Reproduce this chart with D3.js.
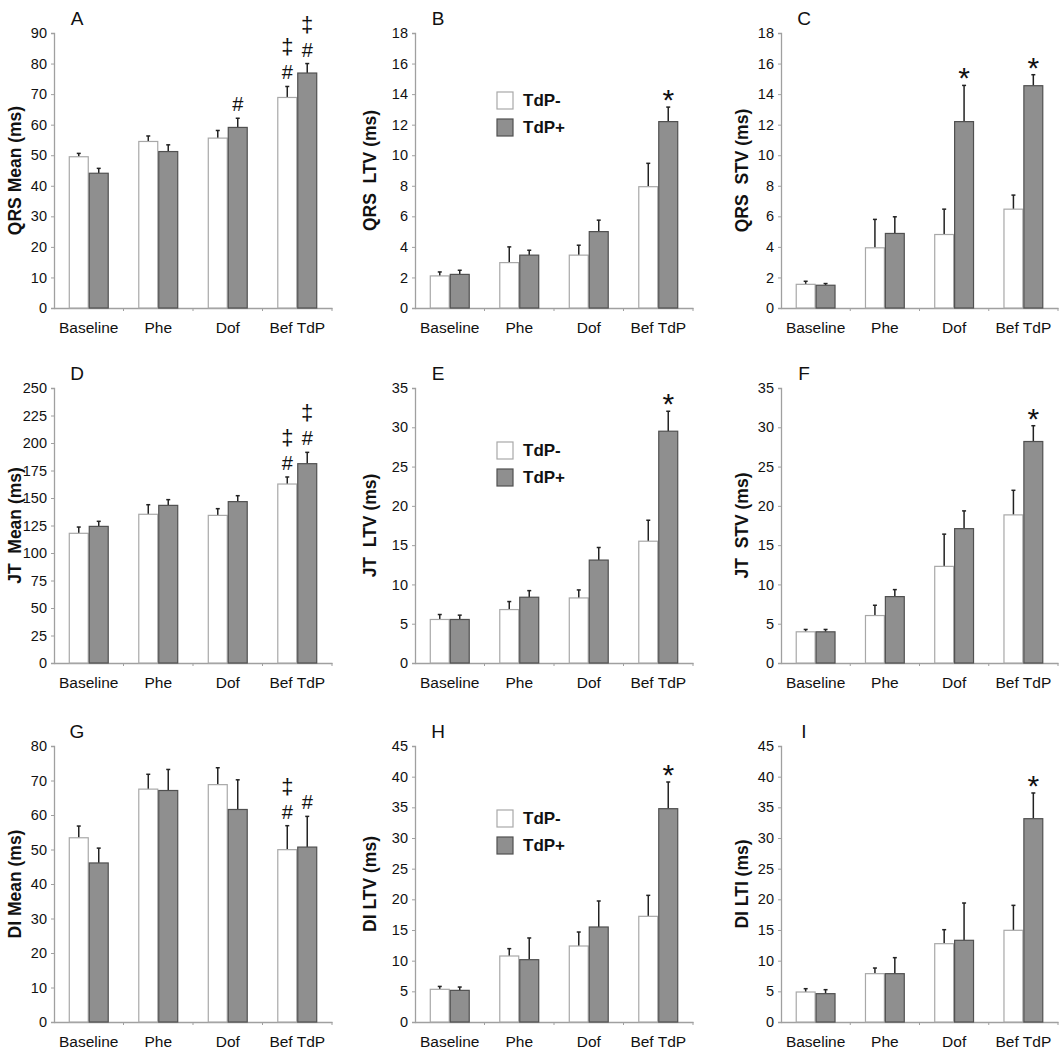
<!DOCTYPE html>
<html>
<head>
<meta charset="utf-8">
<script src="https://cdn.jsdelivr.net/npm/d3@7"></script>
<style>
  html, body { margin: 0; padding: 0; background: #fff; }
  svg { display: block; font-family: Arial, "Liberation Sans", sans-serif; }
</style>
</head>
<body>
<svg id="chart" width="1063" height="1054"></svg>
<script>
// ---------- data ----------
const categories = ["Baseline", "Phe", "Dof", "Bef TdP"];
const seriesNames = ["TdP-", "TdP+"];

const panelLetters = ["A", "B", "C", "D", "E", "F", "G", "H", "I"];
const yTitles = ["QRS Mean (ms)", "QRS  LTV (ms)", "QRS  STV (ms)",
                 "JT  Mean (ms)", "JT  LTV (ms)", "JT  STV (ms)",
                 "DI Mean (ms)", "DI LTV (ms)", "DI LTI (ms)"];
const yMaxes = [90, 18, 18, 250, 35, 35, 80, 45, 45];
const yTickSteps = [10, 2, 2, 25, 5, 5, 10, 5, 5];

// TdP- (white) and TdP+ (gray) means and upper errors
const qrsMeanNeg = [49.5, 54.5, 55.6, 68.9], qrsMeanNegErr = [1.1, 1.8, 2.5, 3.6];
const qrsMeanPos = [44.1, 51.2, 59.1, 76.9], qrsMeanPosErr = [1.6, 2.2, 3.0, 3.1];
const qrsLtvNeg = [2.1, 2.97, 3.46, 7.94], qrsLtvNegErr = [0.26, 1.03, 0.65, 1.53];
const qrsLtvPos = [2.2, 3.46, 5.0, 12.2], qrsLtvPosErr = [0.27, 0.32, 0.75, 0.95];
const qrsStvNeg = [1.55, 3.94, 4.81, 6.47], qrsStvNegErr = [0.2, 1.86, 1.66, 0.92];
const qrsStvPos = [1.49, 4.88, 12.2, 14.55], qrsStvPosErr = [0.11, 1.09, 2.37, 0.72];
const jtMeanNeg = [117.9, 135.2, 134.2, 162.7], jtMeanNegErr = [5.7, 8.7, 6.1, 6.4];
const jtMeanPos = [124.2, 143.3, 146.7, 181.2], jtMeanPosErr = [4.6, 5.2, 5.4, 10.3];
const jtLtvNeg = [5.54, 6.8, 8.28, 15.5], jtLtvNegErr = [0.63, 1.02, 1.02, 2.67];
const jtLtvPos = [5.54, 8.37, 13.1, 29.5], jtLtvPosErr = [0.55, 0.84, 1.6, 2.54];
const jtStvNeg = [3.97, 6.04, 12.3, 18.85], jtStvNegErr = [0.3, 1.31, 4.1, 3.13];
const jtStvPos = [3.97, 8.45, 17.1, 28.19], jtStvPosErr = [0.3, 0.89, 2.26, 2.01];
const diMeanNeg = [53.4, 67.5, 68.8, 49.95], diMeanNegErr = [3.4, 4.3, 4.9, 6.95];
const diMeanPos = [46.1, 67.1, 61.6, 50.7], diMeanPosErr = [4.3, 6.1, 8.6, 8.9];
const diLtvNeg = [5.33, 10.76, 12.39, 17.23], diLtvNegErr = [0.47, 1.2, 2.28, 3.42];
const diLtvPos = [5.16, 10.16, 15.49, 34.78], diLtvPosErr = [0.54, 3.54, 4.24, 4.35];
const diLtiNeg = [4.89, 7.88, 12.77, 14.95], diLtiNegErr = [0.54, 0.92, 2.28, 4.07];
const diLtiPos = [4.62, 7.88, 13.32, 33.15], diLtiPosErr = [0.65, 2.61, 6.08, 4.19];

// significance marks (bottom to top) per category
const marksA_neg = [[], [], [], ["#", "‡"]], marksA_pos = [[], [], ["#"], ["#", "‡"]];
const marksB_neg = [[], [], [], []],         marksB_pos = [[], [], [], ["*"]];
const marksC_neg = [[], [], [], []],         marksC_pos = [[], [], ["*"], ["*"]];
const marksD_neg = [[], [], [], ["#", "‡"]], marksD_pos = [[], [], [], ["#", "‡"]];
const marksE_neg = [[], [], [], []],         marksE_pos = [[], [], [], ["*"]];
const marksF_neg = [[], [], [], []],         marksF_pos = [[], [], [], ["*"]];
const marksG_neg = [[], [], [], ["#", "‡"]], marksG_pos = [[], [], [], ["#"]];
const marksH_neg = [[], [], [], []],         marksH_pos = [[], [], [], ["*"]];
const marksI_neg = [[], [], [], []],         marksI_pos = [[], [], [], ["*"]];

const panelValues = [
  [qrsMeanNeg, qrsMeanNegErr, qrsMeanPos, qrsMeanPosErr, marksA_neg, marksA_pos],
  [qrsLtvNeg, qrsLtvNegErr, qrsLtvPos, qrsLtvPosErr, marksB_neg, marksB_pos],
  [qrsStvNeg, qrsStvNegErr, qrsStvPos, qrsStvPosErr, marksC_neg, marksC_pos],
  [jtMeanNeg, jtMeanNegErr, jtMeanPos, jtMeanPosErr, marksD_neg, marksD_pos],
  [jtLtvNeg, jtLtvNegErr, jtLtvPos, jtLtvPosErr, marksE_neg, marksE_pos],
  [jtStvNeg, jtStvNegErr, jtStvPos, jtStvPosErr, marksF_neg, marksF_pos],
  [diMeanNeg, diMeanNegErr, diMeanPos, diMeanPosErr, marksG_neg, marksG_pos],
  [diLtvNeg, diLtvNegErr, diLtvPos, diLtvPosErr, marksH_neg, marksH_pos],
  [diLtiNeg, diLtiNegErr, diLtiPos, diLtiPosErr, marksI_neg, marksI_pos]
];
const legendPanels = [1, 4, 7];

// ---------- layout ----------
const colX = [[54, 332], [415, 693], [781, 1058]];
const rowY = [[33, 308], [388, 663], [746, 1022]];
const titleOffsets = [39, 45, 39];
const legendTopOffsets = {1: 59, 4: 54, 7: 64};

const svg = d3.select("#chart");
const fillColors = ["#ffffff", "#8f8f8f"];
const strokeColors = ["#a8a8a8", "#505050"];
const axisColor = "#a0a0a0";
const markStyle = {"*": {size: 30, shift: 17}, "‡": {size: 22, shift: 6}, "#": {size: 20, shift: 7}};
const markGap = 24;

panelValues.forEach((pv, i) => {
  const r = Math.floor(i / 3), c = i % 3;
  const [x0, x1] = colX[c];
  const [yTop, yBot] = rowY[r];
  const g = svg.append("g");

  const x = d3.scaleBand().domain(categories).range([x0, x1]).paddingInner(0).paddingOuter(0);
  const xs = d3.scaleBand().domain(seriesNames).range([0, x.bandwidth()]).paddingInner(0).paddingOuter(0.74);
  const y = d3.scaleLinear().domain([0, yMaxes[i]]).range([yBot, yTop]);
  const ticks = d3.range(0, yMaxes[i] + yTickSteps[i] / 2, yTickSteps[i]);

  // y axis
  const yAx = g.append("g").attr("transform", `translate(${x0},0)`)
    .call(d3.axisLeft(y).tickValues(ticks).tickSize(3).tickPadding(4).tickFormat(d3.format("d")));
  yAx.select(".domain").attr("stroke", axisColor).attr("stroke-width", 1.3);
  yAx.selectAll(".tick line").attr("stroke", axisColor);
  yAx.selectAll(".tick text").attr("font-size", 14.5).attr("fill", "#111")
     .attr("font-family", "Arial, 'Liberation Sans', sans-serif");

  // x axis
  const xAx = g.append("g").attr("transform", `translate(0,${yBot})`)
    .call(d3.axisBottom(x).tickSize(0).tickPadding(14));
  xAx.select(".domain").attr("stroke", axisColor).attr("stroke-width", 1.3);
  xAx.selectAll(".tick text").attr("font-size", 15.5).attr("fill", "#111")
     .attr("font-family", "Arial, 'Liberation Sans', sans-serif");
  // boundary ticks between categories
  g.selectAll(".bt").data(categories.slice(1).concat(["__end"])).enter().append("line")
    .attr("x1", (d, k) => k < 3 ? x(d) : x1).attr("x2", (d, k) => k < 3 ? x(d) : x1)
    .attr("y1", yBot).attr("y2", yBot + 3)
    .attr("stroke", axisColor).attr("stroke-width", 1);

  const means = [pv[0], pv[2]], errs = [pv[1], pv[3]], marks = [pv[4], pv[5]];

  seriesNames.forEach((s, si) => {
    categories.forEach((cat, ci) => {
      const bx = x(cat) + xs(s);
      const bw = xs.bandwidth();
      const v = means[si][ci], e = errs[si][ci];
      const cx = bx + bw / 2;
      // error bar (upper only)
      g.append("line").attr("x1", cx).attr("x2", cx)
        .attr("y1", y(v)).attr("y2", y(v + e))
        .attr("stroke", "#222").attr("stroke-width", 1.5);
      g.append("line").attr("x1", cx - 2).attr("x2", cx + 2)
        .attr("y1", y(v + e)).attr("y2", y(v + e))
        .attr("stroke", "#222").attr("stroke-width", 1.5);
      // bar
      g.append("rect").attr("x", bx + 0.5).attr("y", y(v))
        .attr("width", bw - 1).attr("height", yBot - y(v))
        .attr("fill", fillColors[si]).attr("stroke", strokeColors[si]).attr("stroke-width", 1.2);
      // marks, stacked upward above the error bar
      marks[si][ci].forEach((m, k) => {
        const center = y(v + e) - 14 - markGap * k;
        g.append("text").attr("x", cx).attr("y", center + markStyle[m].shift)
          .attr("text-anchor", "middle").attr("font-size", markStyle[m].size)
          .attr("fill", "#111").text(m);
      });
    });
  });

  // panel letter
  g.append("text").attr("x", x0 + 23).attr("y", yTop - 8)
    .attr("text-anchor", "middle").attr("font-size", 19).attr("fill", "#111").text(panelLetters[i]);

  // y title
  const tx = x0 - titleOffsets[c], ty = (yTop + yBot) / 2;
  g.append("text").attr("transform", `translate(${tx},${ty}) rotate(-90)`)
    .attr("text-anchor", "middle").attr("dominant-baseline", "central")
    .attr("font-size", 17.5).attr("font-weight", "bold").attr("fill", "#111")
    .style("white-space", "pre").attr("xml:space", "preserve").text(yTitles[i]);

  // legend
  if (legendPanels.includes(i)) {
    const lx = x0 + 82, ly = yTop + legendTopOffsets[i];
    seriesNames.forEach((s, si) => {
      g.append("rect").attr("x", lx).attr("y", ly + si * 27).attr("width", 16).attr("height", 17)
        .attr("fill", fillColors[si]).attr("stroke", strokeColors[si]).attr("stroke-width", 1.2);
      g.append("text").attr("x", lx + 26).attr("y", ly + si * 27 + 8.5)
        .attr("dominant-baseline", "central").attr("font-size", 17).attr("font-weight", "bold")
        .attr("fill", "#111").text(s);
    });
  }
});
</script>
</body>
</html>
